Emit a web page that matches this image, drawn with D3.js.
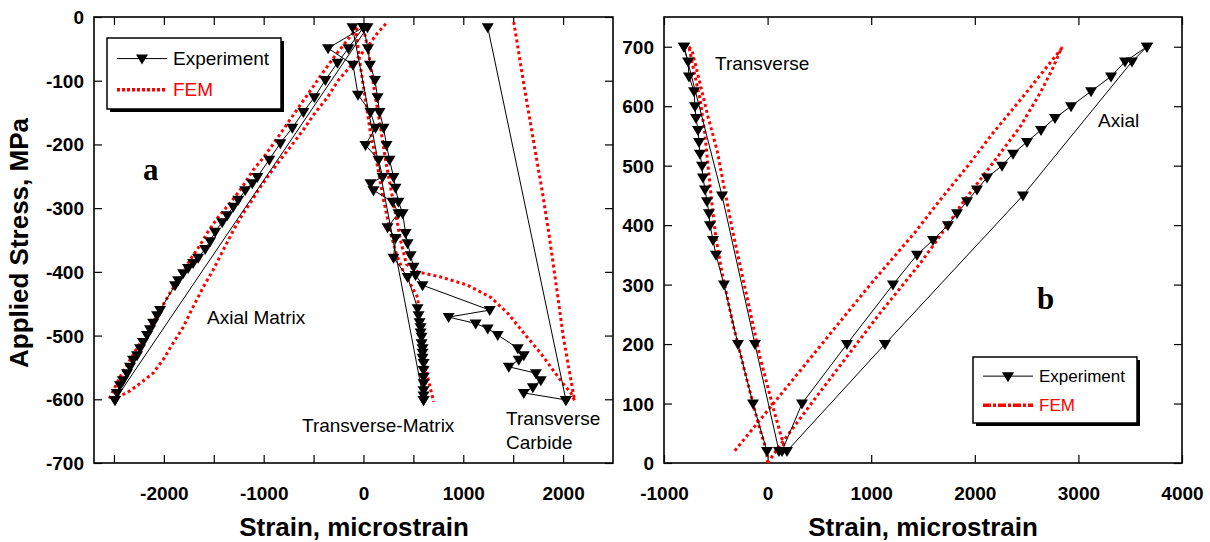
<!DOCTYPE html>
<html>
<head>
<meta charset="utf-8">
<script src="https://cdn.jsdelivr.net/npm/d3@7"></script>
<style>
body { margin: 0; background: #fff; }
svg text { font-family: "Liberation Sans", Arial, sans-serif; }
.tick text { font-weight: bold; font-size: 19px; fill: #000; }
.tick line { stroke: #000; stroke-width: 1.2; }
.title { font-weight: bold; font-size: 26px; }
.note { font-size: 19px; }
.panel { font-family: "Liberation Serif", "Times New Roman", serif !important; font-weight: bold; font-size: 31px; }
</style>
</head>
<body>
<svg id="chart" width="1210" height="542"></svg>
<script>
// ---- panel a : compression, [strain, stress] ----
var axialExp = [[0,-16],[-151,-49],[-261,-72],[-382,-99],[-492,-126],[-602,-149],[-713,-174],[-833,-198],
  [-944,-224],[-1064,-251],[-1114,-261],[-1185,-272],[-1255,-287],[-1305,-298],[-1365,-311],[-1416,-322],
  [-1486,-337],[-1536,-352],[-1586,-364],[-1657,-378],[-1707,-386],[-1757,-394],[-1807,-402],[-1857,-413],
  [-1888,-421],[-2038,-460],[-2068,-468],[-2108,-480],[-2139,-490],[-2169,-499],[-2209,-510],[-2239,-520],
  [-2269,-531],[-2309,-538],[-2339,-549],[-2369,-559],[-2410,-570],[-2440,-578],[-2470,-590],[-2490,-601]];
var axialExpUnload = [[-2490,-601],[40,-16]];
var transMatrixExp = [[0,-16],[-355,-49],[-105,-75],[-55,-122],[70,-149],[120,-174],[20,-201],[151,-224],
  [191,-251],[70,-261],[100,-272],[291,-290],[351,-308],[241,-330],[321,-347],[301,-378],[442,-408],
  [542,-457],[552,-468],[562,-479],[572,-487],[572,-495],[582,-502],[582,-512],[592,-520],[592,-527],
  [592,-535],[602,-543],[602,-554],[602,-565],[602,-575],[602,-586],[602,-594],[602,-601]];
var transMatrixExpUnload = [[602,-601],[-110,-16]];
var transCarbideExp = [[0,-16],[45,-49],[65,-75],[115,-99],[141,-126],[161,-149],[201,-174],[231,-201],
  [261,-224],[301,-251],[321,-268],[351,-290],[392,-308],[422,-339],[442,-355],[472,-374],[502,-392],
  [522,-405],[592,-421],[1265,-460],[853,-471],[1124,-481],[1245,-489],[1345,-499],[1546,-520],[1606,-531],
  [1556,-538],[1456,-549],[1727,-559],[1777,-570],[1697,-581],[1606,-590],[2028,-601]];
var transCarbideExpUnload = [[2028,-601],[1245,-16]];

var axialFem = [[-60,-17],[-160,-36],[-281,-60],[-402,-86],[-512,-111],[-633,-138],[-753,-165],[-863,-190],
  [-984,-217],[-1104,-240],[-1215,-267],[-1335,-292],[-1456,-314],[-1566,-339],[-1637,-358],[-1737,-381],
  [-1837,-408],[-1938,-433],[-2038,-460],[-2139,-487],[-2239,-512],[-2339,-538],[-2440,-565],[-2550,-600],
  [-2369,-590],[-2239,-575],[-2108,-559],[-2008,-538],[-1908,-512],[-1807,-487],[-1707,-455],[-1606,-424],
  [-1506,-397],[-1406,-366],[-1305,-335],[-1205,-308],[-1114,-287],[-1034,-267],[-934,-245],[-833,-224],
  [-733,-204],[-602,-177],[-502,-154],[-361,-126],[-251,-99],[-100,-72],[40,-47],[141,-25],[240,-8]];
var transMatrixFem = [[-80,-16],[-30,-78],[20,-130],[70,-182],[141,-235],[201,-287],[271,-339],[330,-372],
  [400,-400],[480,-422],[542,-440],[572,-480],[602,-523],[643,-565],[703,-604]];
var transCarbideFem = [[0,-17],[40,-47],[70,-75],[120,-126],[171,-174],[221,-224],[271,-267],[321,-308],
  [371,-350],[430,-388],[542,-400],[773,-408],[1044,-421],[1275,-440],[1446,-465],[1606,-496],[1777,-528],
  [1898,-554],[1998,-575],[2078,-590],[2115,-602],[2090,-580],[2048,-543],[2000,-500],[1948,-440],
  [1857,-339],[1787,-270],[1707,-198],[1606,-105],[1506,-8]];

// ---- panel b : tension ----
var axialExpB = [[139,20],[332,100],[766,200],[1210,300],[1442,350],[1597,375],[1741,400],[1828,420],
  [1925,440],[2021,460],[2118,480],[2263,500],[2369,520],[2504,540],[2639,560],[2774,580],[2929,600],
  [3122,625],[3315,650],[3450,675],[3662,700]];
var axialExpBUnload = [[3662,700],[3517,675],[2465,450],[1133,200],[187,20]];
var transExpB = [[-6,20],[-141,100],[-286,200],[-421,300],[-498,350],[-527,375],[-556,400],[-566,420],
  [-585,440],[-604,460],[-624,480],[-633,500],[-653,520],[-662,540],[-672,560],[-691,580],[-701,600],
  [-710,625],[-759,650],[-768,675],[-807,700]];
var transExpBUnload = [[-807,700],[-440,450],[-122,200],[110,20]];

var axialFemB = [[0,0],[100,25],[500,118],[1085,252],[1474,336],[1650,378],[1900,442],[2147,498],
  [2436,565],[2630,622],[2745,661],[2842,700]];
var axialFemBUnload = [[2842,698],[2658,658],[2465,616],[2176,555],[1925,498],[1664,442],[1423,388],
  [1000,302],[500,195],[0,88],[-334,17]];
var transFemB = [[0,0],[-10,20],[-80,60],[-200,140],[-330,230],[-440,320],[-500,380],[-540,440],
  [-575,500],[-610,560],[-650,610],[-700,650],[-760,700]];
var transFemBUnload = [[-760,700],[-730,694],[-653,639],[-575,582],[-488,526],[-411,456],[-334,387],
  [-199,279],[-73,178],[52,94],[149,34],[170,20]];

// ---- ticks ----
var xTicksA = [-2500,-2000,-1500,-1000,-500,0,500,1000,1500,2000];
var xLabelsA = [-2000,-1000,0,1000,2000];
var yTicksA = [0,-100,-200,-300,-400,-500,-600,-700];
var xTicksB = [-1000,0,1000,2000,3000,4000];
var yTicksB = [0,100,200,300,400,500,600,700];

var svg = d3.select("#chart");

function panel(xs, ys, xt, xl, yt) {
  var g = svg.append("g");
  var l = xs.range()[0], r = xs.range()[1], b = ys.range()[0], t = ys.range()[1];
  var fmt = function(d) { return xl.indexOf(d) >= 0 ? String(d) : ""; };

  g.append("g").attr("transform", "translate(0," + b + ")")
    .call(d3.axisBottom(xs).tickValues(xt).tickSize(-8).tickPadding(30).tickFormat(fmt));
  g.append("g").attr("transform", "translate(0," + t + ")")
    .call(d3.axisTop(xs).tickValues(xt).tickSize(-8).tickFormat(""));
  g.append("g").attr("transform", "translate(" + l + ",0)")
    .call(d3.axisLeft(ys).tickValues(yt).tickSize(-8).tickPadding(10).tickFormat(function(d) { return String(d); }));
  g.append("g").attr("transform", "translate(" + r + ",0)")
    .call(d3.axisRight(ys).tickValues(yt).tickSize(-8).tickFormat(""));
  g.selectAll(".domain").remove();
  g.selectAll(".tick text").attr("dy", null).attr("dominant-baseline", "central");

  g.append("rect").attr("x", l).attr("y", t).attr("width", r - l).attr("height", b - t)
    .attr("fill", "none").attr("stroke", "#000").attr("stroke-width", 1.6);

  var line = d3.line().x(function(d) { return xs(d[0]); }).y(function(d) { return ys(d[1]); });
  return {
    g: g,
    fem: function(data) {
      g.append("path").attr("d", line(data)).attr("fill", "none")
        .attr("stroke", "#f00").attr("stroke-width", 3).attr("stroke-dasharray", "3,3");
    },
    exp: function(data) {
      g.append("path").attr("d", line(data)).attr("fill", "none")
        .attr("stroke", "#000").attr("stroke-width", 1);
      g.selectAll(null).data(data).enter().append("path")
        .attr("d", "M-6,-4L6,-4L0,6Z")
        .attr("transform", function(d) { return "translate(" + xs(d[0]) + "," + ys(d[1]) + ")"; })
        .attr("fill", "#000");
    }
  };
}

function legend(x0, y0, w, h, femDash, fs) {
  svg.append("rect").attr("x", x0 + 3).attr("y", y0 + 3).attr("width", w).attr("height", h).attr("fill", "#000");
  svg.append("rect").attr("x", x0).attr("y", y0).attr("width", w).attr("height", h)
    .attr("fill", "#fff").attr("stroke", "#000").attr("stroke-width", 1.5);
  var ly1 = y0 + h * 0.29, ly2 = y0 + h * 0.73;
  svg.append("line").attr("x1", x0 + 10).attr("x2", x0 + 60).attr("y1", ly1).attr("y2", ly1)
    .attr("stroke", "#000").attr("stroke-width", 1);
  svg.append("path").attr("d", "M-6,-4L6,-4L0,6Z").attr("transform", "translate(" + (x0 + 35) + "," + ly1 + ")");
  svg.append("line").attr("x1", x0 + 10).attr("x2", x0 + 60).attr("y1", ly2).attr("y2", ly2)
    .attr("stroke", "#f00").attr("stroke-width", 3.5).attr("stroke-dasharray", femDash);
  svg.append("text").attr("class", "note").attr("x", x0 + 66).attr("y", ly1).style("font-size", fs + "px")
    .attr("dominant-baseline", "central").text("Experiment");
  svg.append("text").attr("class", "note").attr("x", x0 + 66).attr("y", ly2).style("font-size", fs + "px")
    .attr("dominant-baseline", "central").attr("fill", "#f00").text("FEM");
}

// panel a
var xa = d3.scaleLinear().domain([-2700, 2500]).range([94, 613]);
var ya = d3.scaleLinear().domain([-700, 0]).range([463, 17]);
var pa = panel(xa, ya, xTicksA, xLabelsA, yTicksA);
pa.fem(axialFem);
pa.fem(transMatrixFem);
pa.fem(transCarbideFem);
pa.exp(axialExpUnload);
pa.exp(transMatrixExpUnload);
pa.exp(transCarbideExpUnload);
pa.exp(axialExp);
pa.exp(transMatrixExp);
pa.exp(transCarbideExp);

// panel b
var xb = d3.scaleLinear().domain([-1000, 4000]).range([664, 1182]);
var yb = d3.scaleLinear().domain([0, 750]).range([463, 17]);
var pb = panel(xb, yb, xTicksB, xTicksB, yTicksB);
pb.fem(axialFemB);
pb.fem(axialFemBUnload);
pb.fem(transFemB);
pb.fem(transFemBUnload);
pb.exp(axialExpBUnload);
pb.exp(transExpBUnload);
pb.exp(axialExpB);
pb.exp(transExpB);

legend(107, 38, 174, 71, "3,2", 19);
legend(973, 357, 164, 66, "8,2,3,2", 17);

// annotations
function note(x, y, s, cls) {
  return svg.append("text").attr("class", cls || "note").attr("x", x).attr("y", y).text(s);
}
note(207, 324, "Axial Matrix");
note(302, 432, "Transverse-Matrix");
note(506, 425, "Transverse");
note(506, 449, "Carbide");
note(715, 70, "Transverse");
note(1098, 127, "Axial");
note(143, 180, "a", "panel");
note(1037, 309, "b", "panel");

// axis titles
svg.append("text").attr("class", "title").attr("x", 354).attr("y", 536)
  .attr("text-anchor", "middle").text("Strain, microstrain");
svg.append("text").attr("class", "title").attr("x", 923).attr("y", 536)
  .attr("text-anchor", "middle").text("Strain, microstrain");
svg.append("text").attr("class", "title").attr("text-anchor", "middle")
  .attr("transform", "translate(28,243) rotate(-90)").text("Applied Stress, MPa");
</script>
</body>
</html>
